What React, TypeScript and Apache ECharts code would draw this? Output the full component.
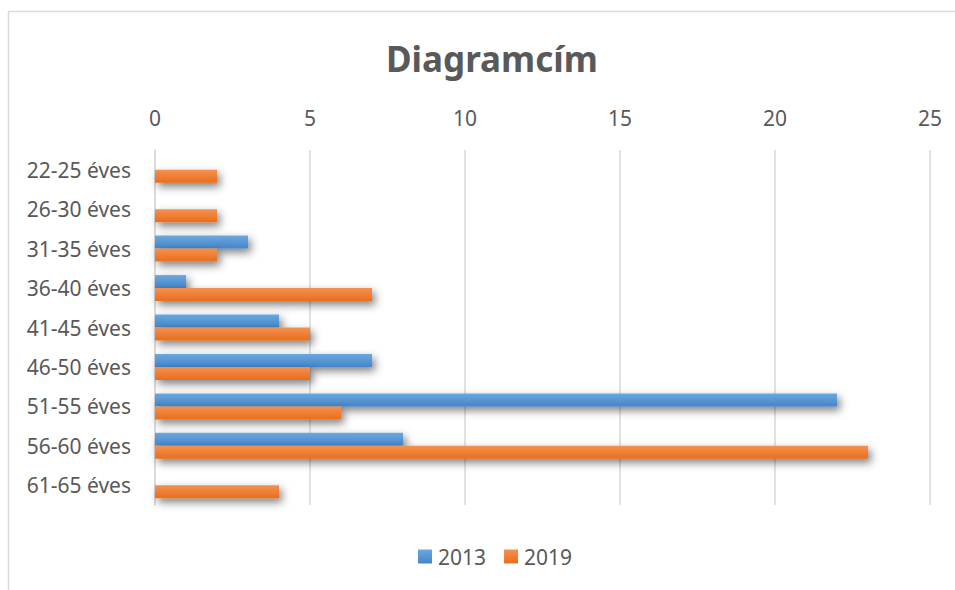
import React, { useEffect, useRef } from "react";
import * as echarts from "echarts";

const categories = [
  "22-25 éves",
  "26-30 éves",
  "31-35 éves",
  "36-40 éves",
  "41-45 éves",
  "46-50 éves",
  "51-55 éves",
  "56-60 éves",
  "61-65 éves",
];
const values2013 = [0, 0, 3, 1, 4, 7, 22, 8, 0];
const values2019 = [2, 2, 2, 7, 5, 5, 6, 23, 4];
const seriesNames = ["2013", "2019"];

const FONT = "Noto Sans";
const TXT = "#595959";

const grad = (top: string, bottom: string) =>
  new echarts.graphic.LinearGradient(0, 0, 0, 1, [
    { offset: 0, color: top },
    { offset: 1, color: bottom },
  ]);

export default function App() {
  const ref = useRef<HTMLDivElement>(null);
  useEffect(() => {
    if (!ref.current) return;
    const chart = echarts.init(ref.current, null, { renderer: "svg" });
    const shadow = {
      shadowBlur: 8,
      shadowColor: "rgba(0,0,0,0.5)",
      shadowOffsetX: 3,
      shadowOffsetY: 4,
    };
    chart.setOption({
      animation: false,
      backgroundColor: "#ffffff",
      textStyle: { fontFamily: FONT },
      title: {
        text: "Diagramcím",
        left: 381,
        top: 36,
        textStyle: { fontFamily: FONT, fontSize: 35, fontWeight: "bold", color: TXT },
      },
      graphic: [
        {
          type: "rect",
          shape: { x: 8.5, y: 11.5, width: 1000, height: 1000 },
          style: { fill: "none", stroke: "#D9D9D9", lineWidth: 1.5 },
          silent: true,
        },
      ],
      legend: {
        bottom: 18,
        left: 413,
        itemWidth: 14,
        itemHeight: 14,
        itemGap: 18,
        icon: "rect",
        textStyle: { fontFamily: FONT, fontSize: 21, color: TXT, padding: [0, 0, 0, 1] },
        data: seriesNames,
      },
      grid: { left: 155, right: 25, top: 150, bottom: 85 },
      xAxis: {
        type: "value",
        position: "top",
        min: 0,
        max: 25,
        interval: 5,
        axisLine: { show: false },
        axisTick: { show: false },
        axisLabel: { fontFamily: FONT, fontSize: 21, color: TXT, margin: 22 },
        splitLine: { show: true, lineStyle: { color: "#D9D9D9", width: 1.5 } },
      },
      yAxis: {
        type: "category",
        inverse: true,
        data: categories,
        axisLine: { show: true, lineStyle: { color: "#D9D9D9", width: 1.5 } },
        axisTick: { show: false },
        axisLabel: { fontFamily: FONT, fontSize: 21, color: TXT, margin: 24 },
      },
      series: [
        {
          name: seriesNames[0],
          type: "bar",
          data: values2013,
          barWidth: 13,
          barGap: "0%",
          itemStyle: { color: grad("#6BA8E0", "#4585C8"), ...shadow },
        },
        {
          name: seriesNames[1],
          type: "bar",
          data: values2019,
          barWidth: 13,
          barGap: "0%",
          itemStyle: { color: grad("#F5904F", "#E86E1C"), ...shadow },
        },
      ],
    });
    return () => chart.dispose();
  }, []);
  return (
    <div
      ref={ref}
      style={{ position: "absolute", left: 0, top: 0, width: 955, height: 590 }}
    />
  );
}
